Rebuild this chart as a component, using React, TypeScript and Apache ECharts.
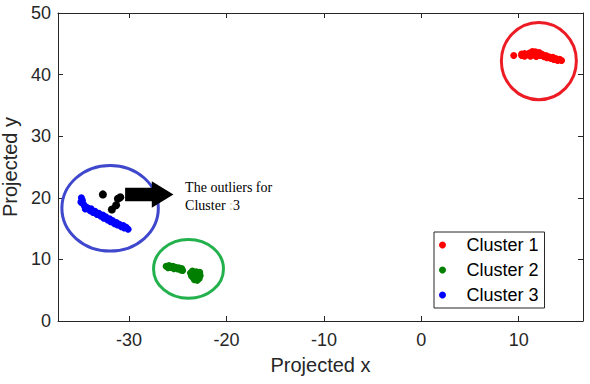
import React, { useEffect, useRef } from "react";
import * as echarts from "echarts";

// ---- data ----
const cluster1: number[][] = [
  [9.49, 43.1],
  [10.3, 43.1], [10.3, 43.35], [10.6, 43.0], [10.6, 43.4], [10.9, 43.2], [11.1, 43.5],
  [11.2, 43.0], [11.4, 43.75], [11.5, 43.2], [11.7, 43.7], [11.8, 42.95], [11.9, 43.4],
  [12.1, 43.6], [12.2, 43.1], [12.4, 43.3], [12.6, 42.9], [12.8, 43.1], [12.9, 42.75],
  [13.1, 42.9], [13.3, 42.6], [13.5, 42.8], [13.6, 42.45], [13.8, 42.6], [14.0, 42.3],
  [14.2, 42.5], [14.4, 42.3],
];
const cluster2: number[][] = [
  [-26.2, 8.9], [-26.0, 8.65], [-25.9, 9.0], [-25.7, 8.7], [-25.5, 8.9], [-25.4, 8.5],
  [-25.2, 8.7], [-25.0, 8.45], [-24.9, 8.65], [-24.7, 8.3], [-24.5, 8.2], [-24.6, 8.5],
  [-23.7, 7.8], [-23.5, 8.1], [-23.3, 7.9], [-23.1, 8.0], [-22.9, 7.7], [-22.7, 7.4],
  [-23.6, 7.3], [-23.4, 7.0], [-23.2, 7.4], [-23.0, 7.1], [-22.8, 6.9], [-23.3, 6.7],
  [-23.0, 6.6], [-23.5, 7.6], [-22.75, 7.9],
];
const cluster3: number[][] = [
  [-34.9, 20.0], [-34.8, 19.6], [-34.95, 19.3], [-34.7, 19.0], [-34.6, 18.7], [-34.4, 18.5],
  [-34.5, 18.2], [-34.2, 18.3], [-34.0, 17.9], [-33.9, 18.2], [-33.7, 17.6], [-33.5, 17.8],
  [-33.3, 17.3], [-33.1, 17.5], [-32.9, 17.0], [-32.7, 17.2], [-32.6, 16.7], [-32.4, 16.9],
  [-32.2, 16.4], [-32.0, 16.6], [-31.9, 16.1], [-31.7, 16.3], [-31.5, 15.8], [-31.3, 16.0],
  [-31.2, 15.6], [-31.0, 15.7], [-30.8, 15.3], [-30.6, 15.5], [-30.5, 15.1], [-30.3, 15.2],
  [-30.1, 14.9],
];
const outliers: number[][] = [
  [-32.69, 20.55], [-31.15, 19.85], [-30.9, 20.1], [-31.33, 18.8], [-31.77, 18.1],
];
const seriesNames = ["Cluster 1", "Cluster 2", "Cluster 3"];
// ellipses: [cx, cy, rx, ry]
const ellipseRed = [12.07, 42.2, 3.85, 6.27];
const ellipseBlue = [-31.95, 18.3, 4.95, 6.95];
const ellipseGreen = [-23.9, 8.46, 3.59, 4.78];
// arrow polygon (data coords)
const arrowPoints: number[][] = [
  [-30.41, 21.63], [-27.67, 21.63], [-27.67, 22.7], [-25.45, 20.55],
  [-27.67, 18.39], [-27.67, 19.46], [-30.41, 19.46],
];
const annotationAnchor = [-24.25, 20.15];
const xTicks = [-30, -20, -10, 0, 10];
const yTicks = [0, 10, 20, 30, 40, 50];

const AXIS_COLOR = "#262626";

export default function App() {
  const ref = useRef<HTMLDivElement>(null);
  useEffect(() => {
    if (!ref.current) return;
    const chart = echarts.init(ref.current, undefined, { renderer: "svg" });
    const ellipses = [
      { e: ellipseRed, color: "#ED1C24" },
      { e: ellipseBlue, color: "#3F48CC" },
      { e: ellipseGreen, color: "#22B14C" },
    ];
    const xLabelFmt = (v: number) => (xTicks.includes(v) ? String(v) : "");
    const yLabelFmt = (v: number) => (yTicks.includes(v) ? String(v) : "");
    const axisCommon = {
      axisLine: { show: true, onZero: false, lineStyle: { color: AXIS_COLOR, width: 1 } },
      axisTick: { show: true, inside: true, length: 5, lineStyle: { color: AXIS_COLOR } },
      splitLine: { show: false },
    };
    const option: any = {
      animation: false,
      backgroundColor: "#ffffff",
      grid: { left: 58, right: 7, top: 13, bottom: 63, containLabel: false, outerBoundsMode: "none" },
      xAxis: [
        {
          type: "value", min: -37.3, max: 16.6, position: "bottom",
          ...axisCommon,
          axisLabel: {
            color: AXIS_COLOR, fontSize: 18, fontFamily: "Liberation Sans, Arial", margin: 10,
            formatter: xLabelFmt, showMinLabel: false, showMaxLabel: false,
          },
          name: "Projected x", nameLocation: "middle", nameGap: 34,
          nameTextStyle: { color: AXIS_COLOR, fontSize: 20, fontFamily: "Liberation Sans, Arial" },
        },
        {
          type: "value", min: -37.3, max: 16.6, position: "top",
          ...axisCommon,
          axisLabel: { show: false },
        },
      ],
      yAxis: [
        {
          type: "value", min: 0, max: 50, interval: 10, position: "left",
          ...axisCommon,
          axisLabel: {
            color: AXIS_COLOR, fontSize: 18, fontFamily: "Liberation Sans, Arial", margin: 7,
            formatter: yLabelFmt,
          },
          name: "Projected y", nameLocation: "middle", nameGap: 28,
          nameTextStyle: { color: AXIS_COLOR, fontSize: 20, fontFamily: "Liberation Sans, Arial" },
        },
        {
          type: "value", min: 0, max: 50, interval: 10, position: "right",
          ...axisCommon,
          axisLabel: { show: false },
        },
      ],
      legend: {
        data: seriesNames,
        orient: "vertical",
        left: 434, top: 232,
        itemWidth: 38, itemHeight: 7, itemGap: 7,
        padding: [4, 6, 4, 5],
        borderColor: AXIS_COLOR, borderWidth: 1, backgroundColor: "#ffffff",
        icon: "circle",
        textStyle: { color: "#000000", fontSize: 18, lineHeight: 18, fontFamily: "Liberation Sans, Arial" },
      },
      series: [
        {
          type: "custom", name: "ellipses", silent: true, z: 1,
          data: ellipses.map((d) => d.e),
          renderItem: (params: any, api: any) => {
            const idx = params.dataIndex;
            const c = api.coord([api.value(0), api.value(1)]);
            const s = api.size([api.value(2), api.value(3)]);
            return {
              type: "ellipse",
              shape: { cx: c[0], cy: c[1], rx: s[0], ry: s[1] },
              style: { fill: "none", stroke: ellipses[idx].color, lineWidth: 3 },
            };
          },
        },
        {
          type: "scatter", name: "Cluster 1", data: cluster1, symbol: "circle", symbolSize: 7,
          itemStyle: { color: "#ff0000", opacity: 1 }, z: 3,
        },
        {
          type: "scatter", name: "Cluster 2", data: cluster2, symbol: "circle", symbolSize: 7,
          itemStyle: { color: "#007f00", opacity: 1 }, z: 3,
        },
        {
          type: "scatter", name: "Cluster 3", data: cluster3, symbol: "circle", symbolSize: 7,
          itemStyle: { color: "#0000ff", opacity: 1 }, z: 3,
        },
        {
          type: "scatter", name: "Outliers", data: outliers, symbol: "circle", symbolSize: 8,
          itemStyle: { color: "#000000", opacity: 1 }, z: 4,
        },
        {
          type: "custom", name: "arrow", silent: true, z: 5,
          data: [0],
          renderItem: (params: any, api: any) => {
            const pts = arrowPoints.map((p) => api.coord(p));
            const a = api.coord(annotationAnchor);
            return {
              type: "group",
              children: [
                { type: "polygon", shape: { points: pts }, style: { fill: "#000000" } },
                {
                  type: "text",
                  x: a[0], y: a[1],
                  style: {
                    text: "{a|The outliers for}\n{a|Cluster }{b|:}{a|3}",
                    x: 0, y: 0,
                    verticalAlign: "middle", align: "left",
                    fill: "#000000",
                    rich: {
                      a: { fontSize: 14, lineHeight: 18, fontFamily: "Liberation Serif, Times New Roman", fill: "#000000" },
                      b: { fontSize: 14, lineHeight: 18, fontFamily: "Liberation Serif, Times New Roman", fill: "#d8cfa8" },
                    },
                  },
                },
              ],
            };
          },
        },
      ],
    };
    chart.setOption(option);
    return () => chart.dispose();
  }, []);
  return <div ref={ref} style={{ width: 590, height: 384, position: "absolute", left: 0, top: 0 }} />;
}
